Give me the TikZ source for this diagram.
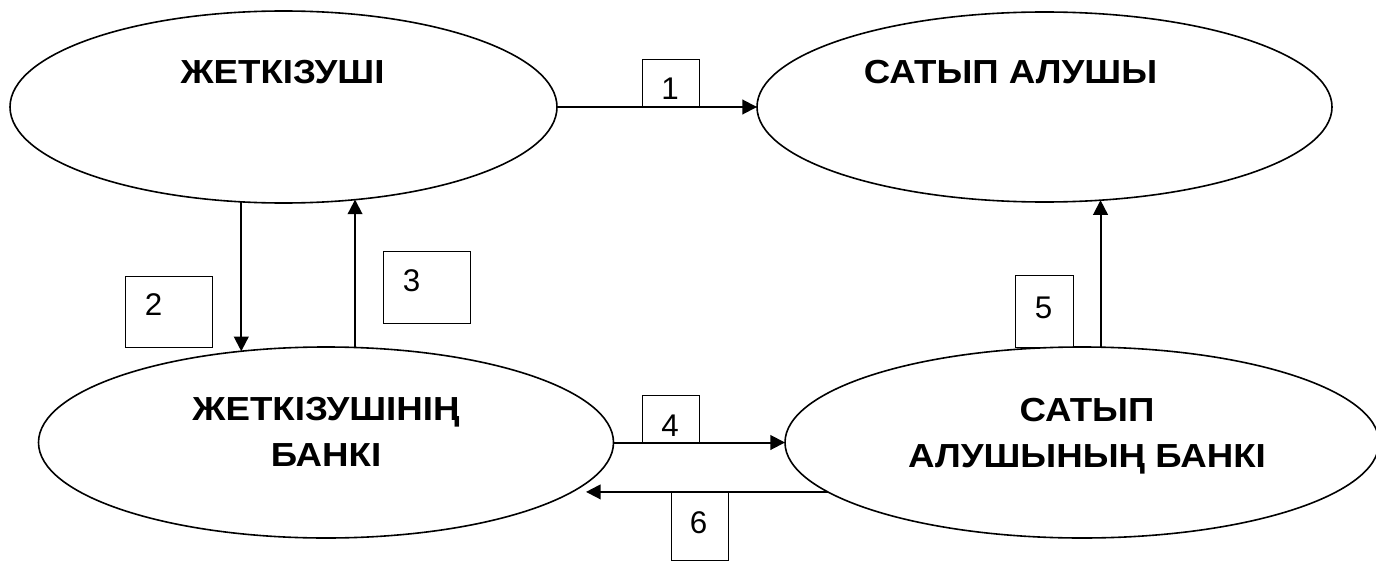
\documentclass[tikz,border=0pt]{standalone}
\usepackage{fontspec}
\setmainfont{Liberation Sans}
\newfontfamily\partyfont[FakeStretch=1.1]{Liberation Sans}
\usetikzlibrary{shapes.geometric,arrows.meta}
\begin{document}
\begin{tikzpicture}[x=0.75pt,y=-0.75pt,
  party/.style={ellipse, draw, line width=1.2pt, inner sep=0pt, outer sep=0pt},
  title/.style={font=\partyfont\bfseries\fontsize{25}{34.5}\selectfont, align=center, anchor=base, inner sep=0pt},
  numbox/.style={draw, line width=1pt, anchor=north west, inner sep=0pt},
  num/.style={font=\fontsize{23.5}{27}\selectfont, inner sep=0pt},
  flow/.style={line width=1.5pt, -{Triangle[length=11pt,width=11pt]}}]
\useasboundingbox (0,0) rectangle (1376,563);

% the four parties
\node[party, minimum width=410.25pt, minimum height=144pt] (A) at (283.5,107) {};
\node[party, minimum width=431.25pt, minimum height=142.5pt] (B) at (1044.5,107) {};
\node[party, minimum width=431.25pt, minimum height=143.25pt] (C) at (326,442.5) {};
\node[party, minimum width=445.5pt, minimum height=143.25pt] (D) at (1082,442.5) {};

% names (a two-line name is anchored on its last baseline)
\node[title] (tA) at (282.5,84) {ЖЕТКІЗУШІ};
\node[title] (tB) at (1010.5,84) {САТЫП АЛУШЫ};
\node[title] (tC) at (326,466) {ЖЕТКІЗУШІНІҢ\\БАНКІ};
\node[title] (tD) at (1087,467) {САТЫП\\АЛУШЫНЫҢ БАНКІ};

% numbered step boxes
\node[numbox, minimum width=42.75pt, minimum height=36pt] (b1) at (642,59) {};
\node[numbox, minimum width=65.25pt, minimum height=53.25pt] (b2) at (125,276) {};
\node[numbox, minimum width=65.25pt, minimum height=54pt] (b3) at (383,251) {};
\node[numbox, minimum width=42.75pt, minimum height=36pt] (b4) at (642,395) {};
\node[numbox, minimum width=43.5pt, minimum height=54pt] (b5) at (1015,275) {};
\node[numbox, minimum width=42.75pt, minimum height=51.75pt] (b6) at (671,491) {};

\node[num] (n1) at (670,89) {1};
\node[num] (n2) at (153.5,305) {2};
\node[num] (n3) at (411.5,281) {3};
\node[num] (n4) at (670,426) {4};
\node[num] (n5) at (1043.5,307.5) {5};
\node[num] (n6) at (698.5,522.5) {6};

% flows between the parties
\draw[flow] (A.east) -- (B.west);
\draw[flow] (A.246) -- (A.246 |- C.133);
\draw[flow] (C.73) -- (C.73 |- A.308);
\draw[flow] (C.east) -- (D.west);
\draw[flow] (D.79) -- (D.79 |- B.301);
\coordinate (t6) at (586,491);
\draw[flow] (D.191) -- (D.191 -| t6);
\end{tikzpicture}
\end{document}
